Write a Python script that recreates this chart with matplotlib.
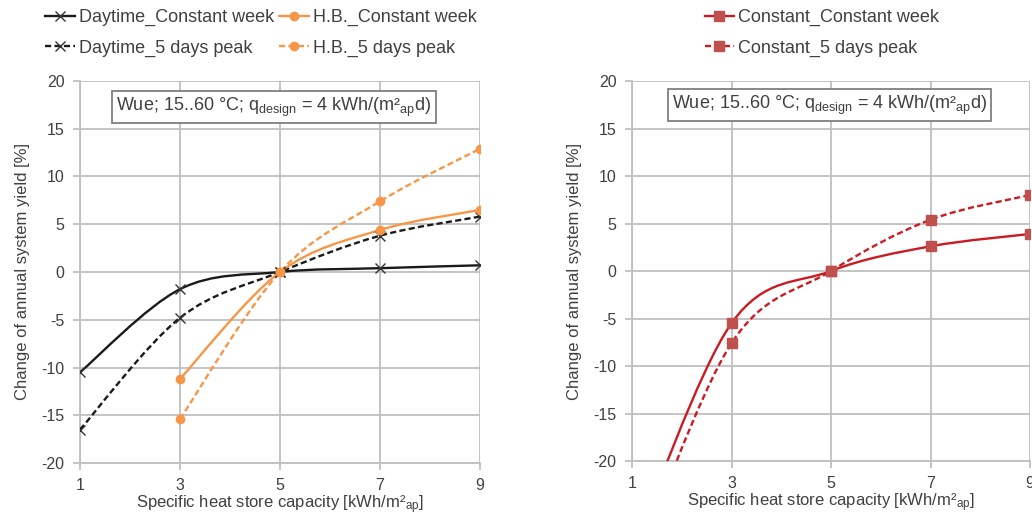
import numpy as np
import matplotlib
matplotlib.use("Agg")
import matplotlib.pyplot as plt
from matplotlib.path import Path
from matplotlib.patches import PathPatch
from matplotlib.lines import Line2D

plt.rcParams['font.family'] = ['Liberation Sans', 'DejaVu Sans']
plt.rcParams['mathtext.default'] = 'regular'
plt.rcParams['axes.unicode_minus'] = False

# ---- data ----
x_all = [1, 3, 5, 7, 9]
x_hb = [3, 5, 7, 9]
daytime_const = [-10.5, -1.8, 0.0, 0.4, 0.7]
daytime_5d = [-16.5, -4.8, 0.0, 3.8, 5.8]
hb_const = [-11.2, 0.0, 4.4, 6.5]
hb_5d = [-15.4, 0.0, 7.4, 12.9]
constant_const = [-29.5, -5.5, 0.0, 2.6, 3.9]
constant_5d = [-32.0, -7.6, 0.0, 5.4, 8.0]
xticks = [1, 3, 5, 7, 9]
yticks = [-20, -15, -10, -5, 0, 5, 10, 15, 20]

BLACK = '#1a1a1a'
ORANGE = '#F79646'
RED_LINE = '#CC1A22'
RED_MK = '#C0504D'
GRID = '#BFBFBF'
TXT = '#404040'


def smooth_path(x, y):
    """Excel-like smoothed line: Catmull-Rom converted to cubic Bezier."""
    pts = np.column_stack([x, y]).astype(float)
    n = len(pts)
    verts = [pts[0]]
    codes = [Path.MOVETO]
    for i in range(n - 1):
        p0 = pts[i - 1] if i > 0 else pts[i]
        p1 = pts[i]
        p2 = pts[i + 1]
        p3 = pts[i + 2] if i + 2 < n else pts[i + 1]
        c1 = p1 + (p2 - p0) / 6.0
        c2 = p2 - (p3 - p1) / 6.0
        verts += [c1, c2, p2]
        codes += [Path.CURVE4] * 3
    return Path(verts, codes)


def draw_series(ax, x, y, color, mcolor, marker, ms, dashed, mew=1.0):
    ls = (0, (2.6, 1.4)) if dashed else '-'
    patch = PathPatch(smooth_path(x, y), fill=False, edgecolor=color,
                      lw=1.7, linestyle=ls, zorder=3, capstyle='butt')
    ax.add_patch(patch)
    ax.plot(x, y, ls='none', marker=marker, ms=ms, color=mcolor,
            mec=mcolor, mew=mew, zorder=4, clip_on=True)
    return Line2D([], [], color=color, lw=1.7, linestyle=ls, marker=marker,
                  ms=ms, mfc=mcolor, mec=mcolor, mew=mew)


def style_axes(ax):
    ax.set_xlim(1, 9)
    ax.set_ylim(-20, 20)
    ax.set_xticks(xticks)
    ax.set_yticks(yticks)
    ax.grid(True, color=GRID, lw=1.3)
    ax.set_axisbelow(True)
    for s in ['top', 'right']:
        ax.spines[s].set_visible(False)
    for s in ['left', 'bottom']:
        ax.spines[s].set_color(GRID)
        ax.spines[s].set_linewidth(1.3)
    ax.tick_params(axis='both', colors=GRID, labelcolor=TXT, labelsize=11.5,
                   length=5, width=1.3)
    ax.tick_params(axis='x', pad=6)
    ax.tick_params(axis='y', pad=6)
    ax.set_xlabel('Specific heat store capacity [kWh/m²$_{ap}$]',
                  fontsize=12, color=TXT, labelpad=0)
    ax.set_ylabel('Change of annual system yield [%]', fontsize=12,
                  color=TXT, labelpad=8)


fig = plt.figure(figsize=(10.32, 5.17), dpi=100)
axL = fig.add_axes([0.0775, 0.1044, 0.3876, 0.739])
axR = fig.add_axes([0.6124, 0.1083, 0.3857, 0.735])

style_axes(axL)
style_axes(axR)

h1 = draw_series(axL, x_all, daytime_const, BLACK, '#333333', 'x', 7, False)
h3 = draw_series(axL, x_all, daytime_5d, BLACK, '#333333', 'x', 7, True)
h2 = draw_series(axL, x_hb, hb_const, ORANGE, ORANGE, 'o', 6, False)
h4 = draw_series(axL, x_hb, hb_5d, ORANGE, ORANGE, 'o', 6, True)

r1 = draw_series(axR, x_all, constant_const, RED_LINE, RED_MK, 's', 6.5, False)
r2 = draw_series(axR, x_all, constant_5d, RED_LINE, RED_MK, 's', 6.5, True)

note = 'Wue; 15..60 °C; q$_{design}$ = 4 kWh/(m²$_{ap}$d)'
for ax, xc, yc in [(axL, 0.485, 0.932), (axR, 0.497, 0.937)]:
    ax.text(xc, yc, note, transform=ax.transAxes, ha='center', va='center',
            fontsize=13, color=TXT, zorder=6,
            bbox=dict(boxstyle='square,pad=0.22', fc='white', ec='#7f7f7f',
                      lw=1.3))

legL = fig.legend([h1, h3, h2, h4],
                  ['Daytime_Constant week', 'Daytime_5 days peak',
                   'H.B._Constant week', 'H.B._5 days peak'],
                  loc='upper left', bbox_to_anchor=(0.028, 1.014), ncol=2,
                  frameon=False, fontsize=13, handlelength=1.65,
                  handletextpad=0.2, columnspacing=0.3, labelspacing=0.75,
                  labelcolor=TXT)
legR = fig.legend([r1, r2], ['Constant_Constant week', 'Constant_5 days peak'],
                  loc='upper left', bbox_to_anchor=(0.667, 1.014), ncol=1,
                  frameon=False, fontsize=13, handlelength=1.65,
                  handletextpad=0.2, labelspacing=0.75, labelcolor=TXT)

fig.savefig('out.png', dpi=100)
